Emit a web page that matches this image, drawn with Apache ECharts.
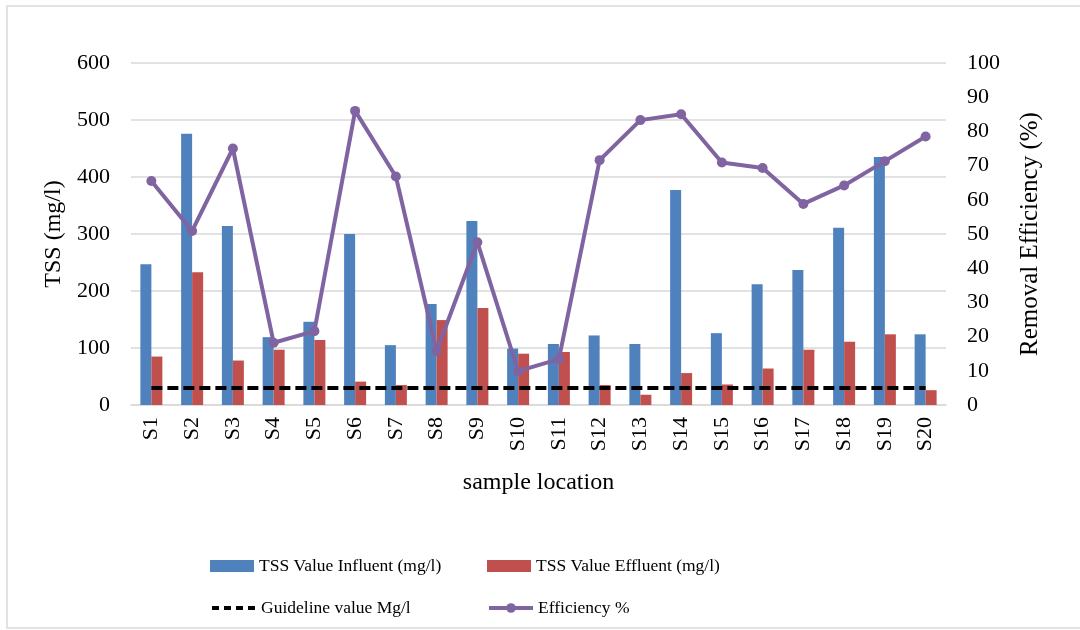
<!DOCTYPE html>
<html>
<head>
<meta charset="utf-8">
<script src="https://cdn.jsdelivr.net/npm/echarts@6/dist/echarts.min.js"></script>
<style>html,body{margin:0;padding:0;background:#fff;}#c{width:1080px;height:630px;}</style>
</head>
<body>
<div id="c"></div>
<script>
const categories = ['S1','S2','S3','S4','S5','S6','S7','S8','S9','S10','S11','S12','S13','S14','S15','S16','S17','S18','S19','S20'];
const influent = [247,476,314,119,146,300,105,177,323,99,107,122,107,377,126,212,237,311,435,124];
const effluent = [85,233,78,97,114,41,35,149,170,90,93,35,18,56,36,64,97,111,124,26];
const guideline = [30,30,30,30,30,30,30,30,30,30,30,30,30,30,30,30,30,30,30,30];
const efficiency = [65.5,50.9,75,18.2,21.6,86,66.8,15.8,47.6,9.9,13.4,71.6,83.3,85,70.9,69.3,58.8,64.2,71.3,78.5];
const leftTicks = [0,100,200,300,400,500,600];
const rightTicks = [0,10,20,30,40,50,60,70,80,90,100];

const FONT = '"Liberation Serif", "Times New Roman", serif';
const chart = echarts.init(document.getElementById('c'));
const legendText = {fontFamily: FONT, fontSize: 17.5, color: '#000'};
function lg(item, left, top) {
  return {data: [item], left: left, top: top, padding: 0, itemWidth: 44, itemHeight: 12, itemGap: 5,
    textStyle: legendText, selectedMode: false};
}
chart.setOption({
  animation: false,
  backgroundColor: '#fff',
  graphic: [{type: 'rect', shape: {x: 7, y: 6, width: 1100, height: 622},
    style: {fill: 'none', stroke: '#d9d9d9', lineWidth: 1.5}, silent: true, z: -1}],
  grid: {left: 131, right: 134, top: 63, bottom: 225},
  legend: [
    lg({name: 'TSS Value Influent (mg/l)', icon: 'rect'}, 210, 557),
    lg({name: 'TSS Value Effluent (mg/l)', icon: 'rect'}, 487, 557),
    lg({name: 'Guideline value Mg/l', itemStyle: {opacity: 0}, lineStyle: {width: 4, type: [7, 5], color: '#000'}}, 210, 599),
    lg({name: 'Efficiency %', lineStyle: {width: 4, color: '#8064a2'}}, 487, 599)
  ],
  xAxis: {
    type: 'category', data: categories,
    name: 'sample location', nameLocation: 'middle', nameGap: 66,
    nameTextStyle: {fontFamily: FONT, fontSize: 24, color: '#000'},
    axisLine: {lineStyle: {color: '#d9d9d9', width: 1.5}},
    axisTick: {show: false},
    axisLabel: {rotate: 90, margin: 12, fontFamily: FONT, fontSize: 22, color: '#000', interval: 0}
  },
  yAxis: [{
    type: 'value', min: leftTicks[0], max: leftTicks[leftTicks.length - 1], interval: 100,
    name: 'TSS (mg/l)', nameLocation: 'middle', nameGap: 64,
    nameTextStyle: {fontFamily: FONT, fontSize: 24, color: '#000'},
    axisLine: {show: false}, axisTick: {show: false},
    axisLabel: {margin: 21, fontFamily: FONT, fontSize: 22, color: '#000'},
    splitLine: {lineStyle: {color: '#d9d9d9', width: 1.5}}
  }, {
    type: 'value', min: rightTicks[0], max: rightTicks[rightTicks.length - 1], interval: 10,
    name: 'Removal Efficiency (%)', nameLocation: 'middle', nameGap: 72, nameRotate: 90,
    nameTextStyle: {fontFamily: FONT, fontSize: 25, color: '#000'},
    axisLine: {show: false}, axisTick: {show: false},
    axisLabel: {margin: 21, fontFamily: FONT, fontSize: 22, color: '#000'},
    splitLine: {show: false}
  }],
  series: [
    {name: 'TSS Value Influent (mg/l)', type: 'bar', data: influent, barWidth: 11, barGap: '0%',
      itemStyle: {color: '#4f81bd'}},
    {name: 'TSS Value Effluent (mg/l)', type: 'bar', data: effluent, barWidth: 11, barGap: '0%',
      itemStyle: {color: '#c0504d'}},
    {name: 'Guideline value Mg/l', type: 'line', data: guideline, symbol: 'none',
      lineStyle: {color: '#000', width: 4, type: [11, 5]}, itemStyle: {color: '#000'}, z: 3},
    {name: 'Efficiency %', type: 'line', yAxisIndex: 1, data: efficiency, symbol: 'circle', symbolSize: 10,
      lineStyle: {color: '#8064a2', width: 4}, itemStyle: {color: '#8064a2'}, z: 4}
  ]
});
</script>
</body>
</html>
